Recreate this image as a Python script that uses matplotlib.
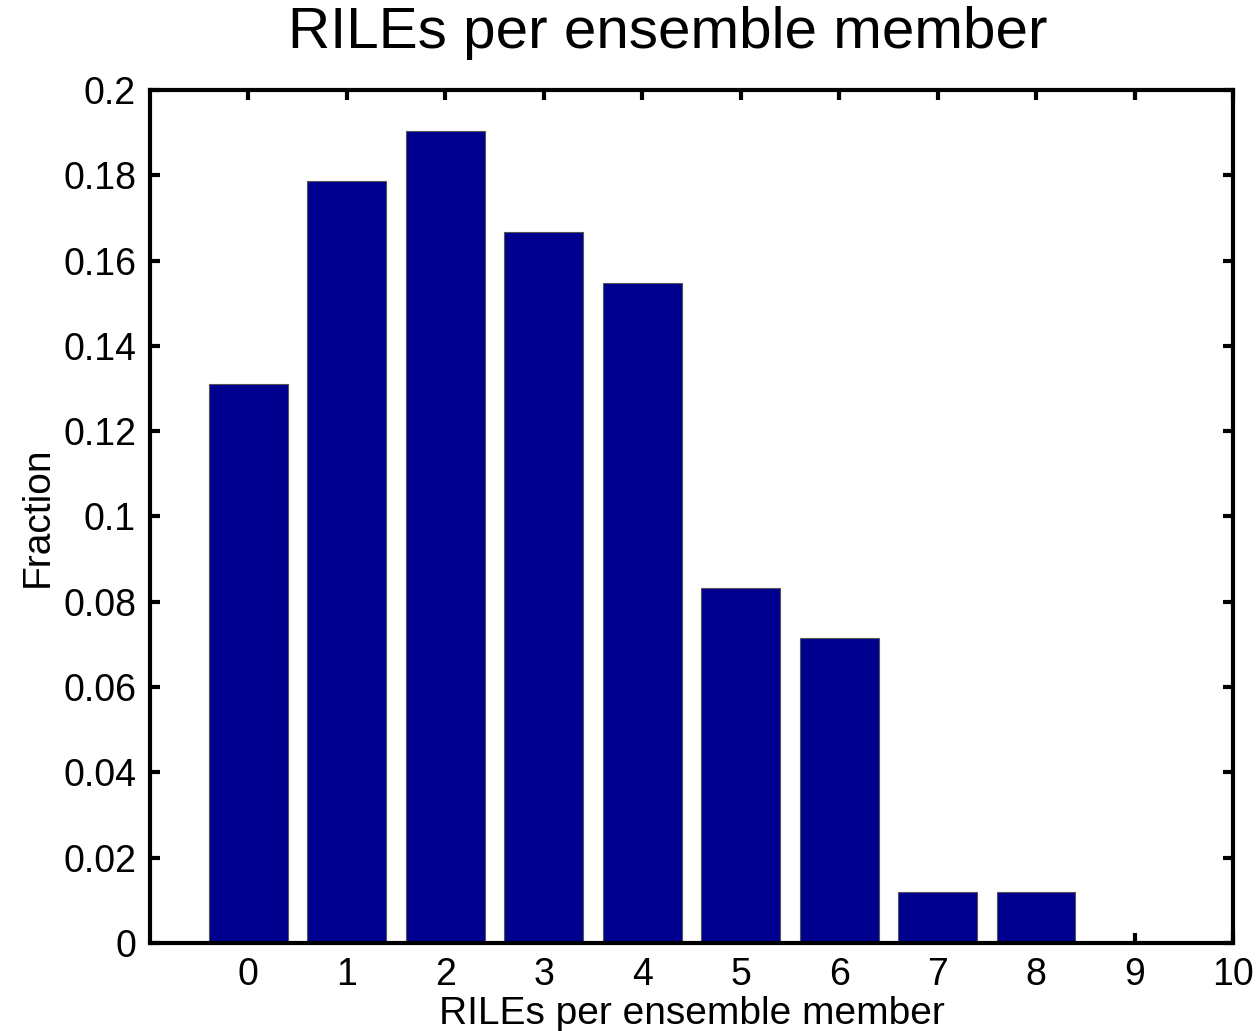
import matplotlib
matplotlib.use("Agg")
import matplotlib.pyplot as plt

categories = [0, 1, 2, 3, 4, 5, 6, 7, 8, 9]
fractions = [0.1310, 0.1786, 0.1905, 0.1667, 0.1548, 0.0833, 0.0714, 0.0119, 0.0119, 0.0]
xticks = [0, 1, 2, 3, 4, 5, 6, 7, 8, 9, 10]
yticks = [0, 0.02, 0.04, 0.06, 0.08, 0.1, 0.12, 0.14, 0.16, 0.18, 0.2]
ytick_labels = ["0", "0.02", "0.04", "0.06", "0.08", "0.1", "0.12", "0.14", "0.16", "0.18", "0.2"]

plt.rcParams['font.family'] = ['Liberation Sans', 'DejaVu Sans']

fig = plt.figure(figsize=(12.58, 10.31), dpi=100)
ax = fig.add_axes([0.1192, 0.0854, 0.8609, 0.8273])

ax.bar(categories, fractions, width=0.8, color='#00008F', edgecolor='#555555', linewidth=0.8, zorder=2)

ax.set_xlim(-1, 10)
ax.set_ylim(0, 0.2)
ax.set_xticks(xticks)
ax.set_xticklabels([str(t) for t in xticks])
ax.set_yticks(yticks)
ax.set_yticklabels(ytick_labels)

for s in ax.spines.values():
    s.set_linewidth(3)
ax.tick_params(direction='in', length=7, width=3, top=True, right=True, labelsize=27, pad=10)

ax.set_title("RILEs per ensemble member", fontsize=42, pad=30, x=0.478)
ax.set_xlabel("RILEs per ensemble member", fontsize=28, labelpad=2)
ax.set_ylabel("Fraction", fontsize=28, labelpad=5)

fig.savefig("out.png", dpi=100)
